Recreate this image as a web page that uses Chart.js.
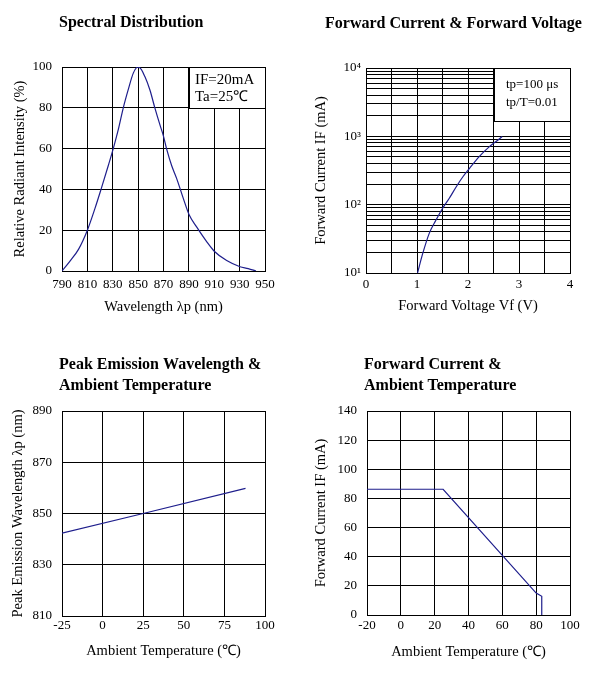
<!DOCTYPE html>
<html>
<head>
<meta charset="utf-8">
<script src="https://cdn.jsdelivr.net/npm/chart.js@4.4.1/dist/chart.umd.min.js"></script>
<style>
  html, body { margin: 0; padding: 0; background: #fff; }
  body { width: 592px; height: 675px; position: relative; overflow: hidden; }
  canvas { position: absolute; }
</style>
</head>
<body>
<canvas id="spec" width="296" height="338" style="left:0;top:0"></canvas>
<canvas id="fwd" width="296" height="338" style="left:296px;top:0"></canvas>
<canvas id="peak" width="296" height="337" style="left:0;top:338px"></canvas>
<canvas id="derate" width="296" height="337" style="left:296px;top:338px"></canvas>
<script>
// spectral distribution
const specWavelength = [790, 796, 803, 810, 816, 821, 826.5, 830.4, 834.4, 838.3, 842.2, 846.2, 849.6, 851,
                        855.4, 859.3, 863.3, 867.2, 869.8, 872.5, 876.4, 880.4, 885.6, 890.3, 896.1, 904, 910, 919.8, 930.3, 936.8, 942.9];
const specIntensity  = [0, 4.6, 10.6, 20, 30.7, 40.5, 51.7, 60, 69.4, 80, 88.9, 97, 99.9, 99.8,
                        95.2, 88.7, 79.7, 71.6, 66.5, 59.7, 51.7, 45.3, 35.6, 27.4, 21.6, 14.4, 9.7, 5.1, 2.1, 1.2, 0];

// forward current vs forward voltage (log)
const vfVoltage = [1.01, 1.11, 1.24, 1.37, 1.50, 1.63, 1.77, 1.90, 2.03, 2.22, 2.42, 2.55, 2.67];
const vfCurrent = [10, 19, 38, 59, 88, 123, 183, 256, 340, 505, 708, 838, 993];
const ifDecades = [10, 100, 1000, 10000];
const ifDecadeLabels = ['10\u00b9', '10\u00b2', '10\u00b3', '10\u2074'];

// peak wavelength vs ambient temperature
const peakTemp = [-25, 25, 88];
const peakWavelength = [842.3, 850, 859.8];

// forward current derating
const derateTemp = [-20, 25, 80, 83.3, 83.3];
const derateCurrent = [86.3, 86.3, 15, 12.8, 0];

const SERIF = "'Liberation Serif', 'Times New Roman', serif";
const CURVE = '#1e1e8c';
const tickFont = { family: SERIF, size: 13 };
const titleFont = { family: SERIF, size: 14.5 };

const pts = (xs, ys) => xs.map((x, i) => ({ x, y: ys[i] }));

// headings and note boxes
const decor = {
  id: 'decor',
  beforeDatasetsDraw(chart, args, o) {
    const n = o.note;
    if (!n) return;
    const { x, y } = chart.scales;
    const ctx = chart.ctx;
    const l = Math.round(x.getPixelForValue(n.x0)), r = Math.round(x.getPixelForValue(n.x1));
    const t = Math.round(y.getPixelForValue(n.y1)), b = Math.round(y.getPixelForValue(n.y0));
    ctx.save();
    ctx.fillStyle = '#fff';
    ctx.fillRect(l, t, r - l, b - t);
    ctx.strokeStyle = '#000';
    ctx.lineWidth = 1;
    ctx.strokeRect(l + 0.5, t + 0.5, r - l, b - t);
    ctx.fillStyle = '#000';
    ctx.font = n.size + 'px ' + SERIF;
    ctx.textBaseline = 'middle';
    n.lines.forEach((s, i) => ctx.fillText(s, l + n.dx, t + n.dy + i * n.lh));
    ctx.restore();
  },
  afterDraw(chart, args, o) {
    const ctx = chart.ctx;
    ctx.save();
    ctx.fillStyle = '#000';
    ctx.font = 'bold 16px ' + SERIF;
    ctx.textBaseline = 'alphabetic';
    o.heading.forEach((s, i) => ctx.fillText(s, o.hx, o.hy + i * 20.7));
    ctx.restore();
  }
};

function makeChart(id, c) {
  const yAxis = {
    type: c.yType || 'linear',
    min: c.yMin, max: c.yMax,
    ticks: { stepSize: c.yStep, autoSkip: false, padding: c.yPad, font: tickFont, color: '#000' },
    grid: { color: '#000', lineWidth: 1, drawTicks: false },
    border: { color: '#000', width: 1 },
    title: { display: true, text: c.yTitle, font: titleFont, color: '#000', padding: { top: c.yTitlePad, bottom: 0 } },
    afterFit(s) { s.width = c.left; }
  };
  if (c.yTickValues) {
    yAxis.afterBuildTicks = s => { s.ticks = c.yTickValues.map(v => ({ value: v })); };
    yAxis.ticks.callback = c.yCallback;
  }
  return new Chart(document.getElementById(id), {
    type: 'scatter',
    data: {
      datasets: [{
        data: pts(c.xs, c.ys),
        showLine: true,
        borderColor: CURVE,
        borderWidth: 1.2,
        pointRadius: 0,
        cubicInterpolationMode: c.smooth ? 'monotone' : 'default',
        tension: 0
      }]
    },
    options: {
      responsive: false,
      animation: false,
      events: [],
      layout: { padding: { left: 0, top: c.top, right: c.right, bottom: 0 } },
      plugins: {
        legend: { display: false },
        tooltip: { enabled: false },
        decor: { heading: c.heading, hx: c.hx, hy: c.hy, note: c.note }
      },
      scales: {
        x: {
          type: 'linear',
          min: c.xMin, max: c.xMax,
          ticks: { stepSize: c.xStep, autoSkip: false, maxRotation: 0, padding: c.xPad, font: tickFont, color: '#000', callback: c.xCallback },
          grid: { color: '#000', lineWidth: 1, drawTicks: false },
          border: { color: '#000', width: 1 },
          title: { display: true, text: c.xTitle, font: titleFont, color: '#000', padding: { top: 0, bottom: c.xTitlePad } },
          afterFit(s) { s.height = c.bottomH; }
        },
        y: yAxis
      }
    },
    plugins: [decor]
  });
}

makeChart('spec', {
  xs: specWavelength, ys: specIntensity, smooth: true,
  xMin: 790, xMax: 950, xStep: 20, yMin: 0, yMax: 100, yStep: 20,
  xTitle: 'Wavelength \u03bbp (nm)', yTitle: 'Relative Radiant Intensity (%)',
  left: 62, top: 67, right: 31, bottomH: 67,
  xPad: 6, yPad: 10, xTitlePad: 22, yTitlePad: 11,
  heading: ['Spectral Distribution'], hx: 59, hy: 27,
  note: { x0: 890, x1: 950, y0: 80, y1: 100, lines: ['IF=20mA', 'Ta=25\u2103'], size: 15, dx: 6, dy: 13, lh: 17 }
});

makeChart('fwd', {
  xs: vfVoltage, ys: vfCurrent, smooth: true,
  xMin: 0, xMax: 4, xStep: 0.5, yType: 'logarithmic', yMin: 10, yMax: 10000,
  yTickValues: [10, 20, 30, 40, 50, 60, 70, 80, 90, 100, 200, 300, 400, 500, 600, 700, 800, 900,
                1000, 2000, 3000, 4000, 5000, 6000, 7000, 8000, 9000, 10000],
  yCallback: v => { const k = ifDecades.indexOf(v); return k >= 0 ? ifDecadeLabels[k] : ''; },
  xCallback: v => Number.isInteger(v) ? String(v) : '',
  xTitle: 'Forward Voltage Vf (V)', yTitle: 'Forward Current IF (mA)',
  left: 70, top: 68, right: 22, bottomH: 65,
  xPad: 4, yPad: 5, xTitlePad: 23, yTitlePad: 16,
  heading: ['Forward Current & Forward Voltage'], hx: 29, hy: 28,
  note: { x0: 2.5, x1: 4, y0: 1700, y1: 10000, lines: ['tp=100 \u03bcs', 'tp/T=0.01'], size: 13, dx: 12, dy: 17, lh: 18 }
});

makeChart('peak', {
  xs: peakTemp, ys: peakWavelength,
  xMin: -25, xMax: 100, xStep: 25, yMin: 810, yMax: 890, yStep: 20,
  xTitle: 'Ambient Temperature (\u2103)', yTitle: 'Peak Emission Wavelength \u03bbp (nm)',
  left: 62, top: 73, right: 31, bottomH: 59,
  xPad: 2, yPad: 10, xTitlePad: 15, yTitlePad: 9,
  heading: ['Peak Emission Wavelength &', 'Ambient Temperature'], hx: 59, hy: 31
});

makeChart('derate', {
  xs: derateTemp, ys: derateCurrent,
  xMin: -20, xMax: 100, xStep: 20, yMin: 0, yMax: 140, yStep: 20,
  xTitle: 'Ambient Temperature (\u2103)', yTitle: 'Forward Current IF (mA)',
  left: 71, top: 73, right: 22, bottomH: 60,
  xPad: 3, yPad: 10, xTitlePad: 14, yTitlePad: 16,
  heading: ['Forward Current &', 'Ambient Temperature'], hx: 68, hy: 31
});
</script>
</body>
</html>
